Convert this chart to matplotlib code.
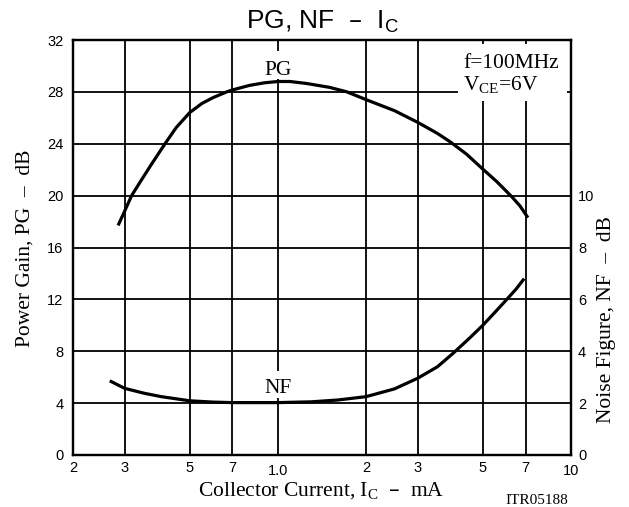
import matplotlib
matplotlib.use("Agg")
import matplotlib.pyplot as plt
import matplotlib.transforms as mtrans
from matplotlib.patches import Rectangle
from matplotlib.ticker import FixedLocator, NullLocator

# Data
pg_ic = [0.285, 0.30, 0.317, 0.34, 0.37, 0.412, 0.45, 0.50, 0.55, 0.60, 0.669, 0.70, 0.80, 0.90, 1.0,
         1.1, 1.25, 1.5, 1.72, 2.0, 2.5, 3.0, 3.5, 3.87, 4.4, 5.0, 5.6, 6.29, 6.7, 7.13]
pg_db = [17.7, 18.8, 20.0, 21.1, 22.4, 24.0, 25.25, 26.4, 27.1, 27.55, 28.0, 28.15, 28.5, 28.7, 28.8,
         28.8, 28.65, 28.35, 28.0, 27.4, 26.55, 25.65, 24.8, 24.15, 23.2, 22.05, 21.05, 19.9, 19.2, 18.3]

nf_ic = [0.267, 0.30, 0.35, 0.40, 0.50, 0.60, 0.70, 1.0, 1.3, 1.6, 2.0, 2.5, 3.0, 3.5, 3.96,
         4.5, 5.0, 5.5, 6.04, 6.5, 6.92]
nf_db = [2.86, 2.57, 2.38, 2.25, 2.09, 2.04, 2.02, 2.02, 2.05, 2.12, 2.25, 2.55, 2.96, 3.4, 3.92,
         4.5, 5.0, 5.5, 6.0, 6.4, 6.8]

x_ticks = [0.2, 0.3, 0.5, 0.7, 1.0, 2, 3, 5, 7, 10]
x_ticklabels = ["2", "3", "5", "7", "1.0", "2", "3", "5", "7", "10"]
pg_ticks = [0, 4, 8, 12, 16, 20, 24, 28, 32]
nf_ticks = [0, 2, 4, 6, 8, 10]

SANS = "Liberation Sans"
SERIF = "Liberation Serif"
W, H = 629, 507
L, R, T, B = 73, 571, 40, 455

fig = plt.figure(figsize=(W/100, H/100), dpi=100)
ax = fig.add_axes([L/W, 1-B/H, (R-L)/W, (B-T)/H])
ax.set_xscale("log")
ax.set_xlim(0.2, 10)
ax.set_ylim(0, 32)

ax.xaxis.set_major_locator(FixedLocator(x_ticks))
ax.xaxis.set_minor_locator(NullLocator())
ax.set_xticks(x_ticks)
ax.set_xticklabels(x_ticklabels, fontfamily=SANS, fontsize=10.5)
ax.set_yticks(pg_ticks)
ax.set_yticklabels([str(v) for v in pg_ticks], fontfamily=SANS, fontsize=10.5)
ax.tick_params(axis="x", length=0, pad=4)
ax.tick_params(axis="y", length=0, pad=7)
# "1.0" and "10" sit a little lower in the reference
for i, lab in enumerate(ax.get_xticklabels()):
    if x_ticklabels[i] in ("1.0", "10"):
        lab.set_transform(lab.get_transform() + mtrans.ScaledTranslation(0, -2.5/72, fig.dpi_scale_trans))

for v in x_ticks[1:-1]:
    ax.axvline(v, color="black", lw=1.3, zorder=1)
for v in pg_ticks[1:-1]:
    ax.axhline(v, color="black", lw=1.3, zorder=1)
for s in ax.spines.values():
    s.set_linewidth(1.6)

ax.plot(pg_ic, pg_db, color="black", lw=2.3, zorder=3, solid_capstyle="butt")

ax2 = ax.twinx()
ax2.set_ylim(0, 16)
ax2.set_yticks(nf_ticks)
ax2.set_yticklabels([str(v) for v in nf_ticks], fontfamily=SANS, fontsize=10.5)
ax2.tick_params(axis="y", length=0, pad=5)
ax2.plot(nf_ic, nf_db, color="black", lw=2.3, zorder=3, solid_capstyle="butt")
for s in ax2.spines.values():
    s.set_linewidth(1.6)

def fx(px):
    return (px - L) / (R - L)

def fy(py):
    return (B - py) / (B - T)

# white areas behind in-plot labels
ax2.add_patch(Rectangle((fx(458), fy(101)), fx(567) - fx(458), fy(44) - fy(101),
                        transform=ax.transAxes, facecolor="white", edgecolor="none", zorder=4))
ax2.add_patch(Rectangle((fx(262), fy(79)), fx(295) - fx(262), fy(51) - fy(79),
                        transform=ax.transAxes, facecolor="white", edgecolor="none", zorder=4))
ax2.add_patch(Rectangle((fx(262), fy(398)), fx(295) - fx(262), fy(371) - fy(398),
                        transform=ax.transAxes, facecolor="white", edgecolor="none", zorder=4))

ax2.text(fx(278.5), fy(75), "PG", transform=ax.transAxes, ha="center", va="baseline",
         fontfamily=SERIF, fontsize=15.5, zorder=5)
ax2.text(fx(278.5), fy(393), "NF", transform=ax.transAxes, ha="center", va="baseline",
         fontfamily=SERIF, fontsize=15.5, zorder=5)
ax2.text(fx(463), fy(68), "f=100MHz", transform=ax.transAxes, ha="left", va="baseline",
         fontfamily=SERIF, fontsize=15.5, zorder=5)
ax2.text(fx(463), fy(90), "V$_{\\mathregular{CE}}$=6V", transform=ax.transAxes, ha="left",
         va="baseline", fontfamily=SERIF, fontsize=15.5, zorder=5)

# titles and axis labels
fig.text(322/W, 1-22/H, "PG, NF  –  I$_{\\mathregular{C}}$", ha="center", va="center",
         fontfamily=SANS, fontsize=19)
fig.text(25/W, 1-248/H, "Power Gain, PG  –  dB", rotation=90, ha="center", va="center",
         fontfamily=SERIF, fontsize=15.5)
fig.text(607/W, 1-320/H, "Noise Figure, NF  –  dB", rotation=90, ha="center", va="center",
         fontfamily=SERIF, fontsize=15.5)
fig.text(321/W, 1-491/H, "Collector Current, I$_{\\mathregular{C}}$  –  mA", ha="center",
         va="center", fontfamily=SERIF, fontsize=15.5)
fig.text(537/W, 1-501/H, "ITR05188", ha="center", va="center", fontfamily=SERIF, fontsize=11)

fig.savefig("out.png", dpi=100)
